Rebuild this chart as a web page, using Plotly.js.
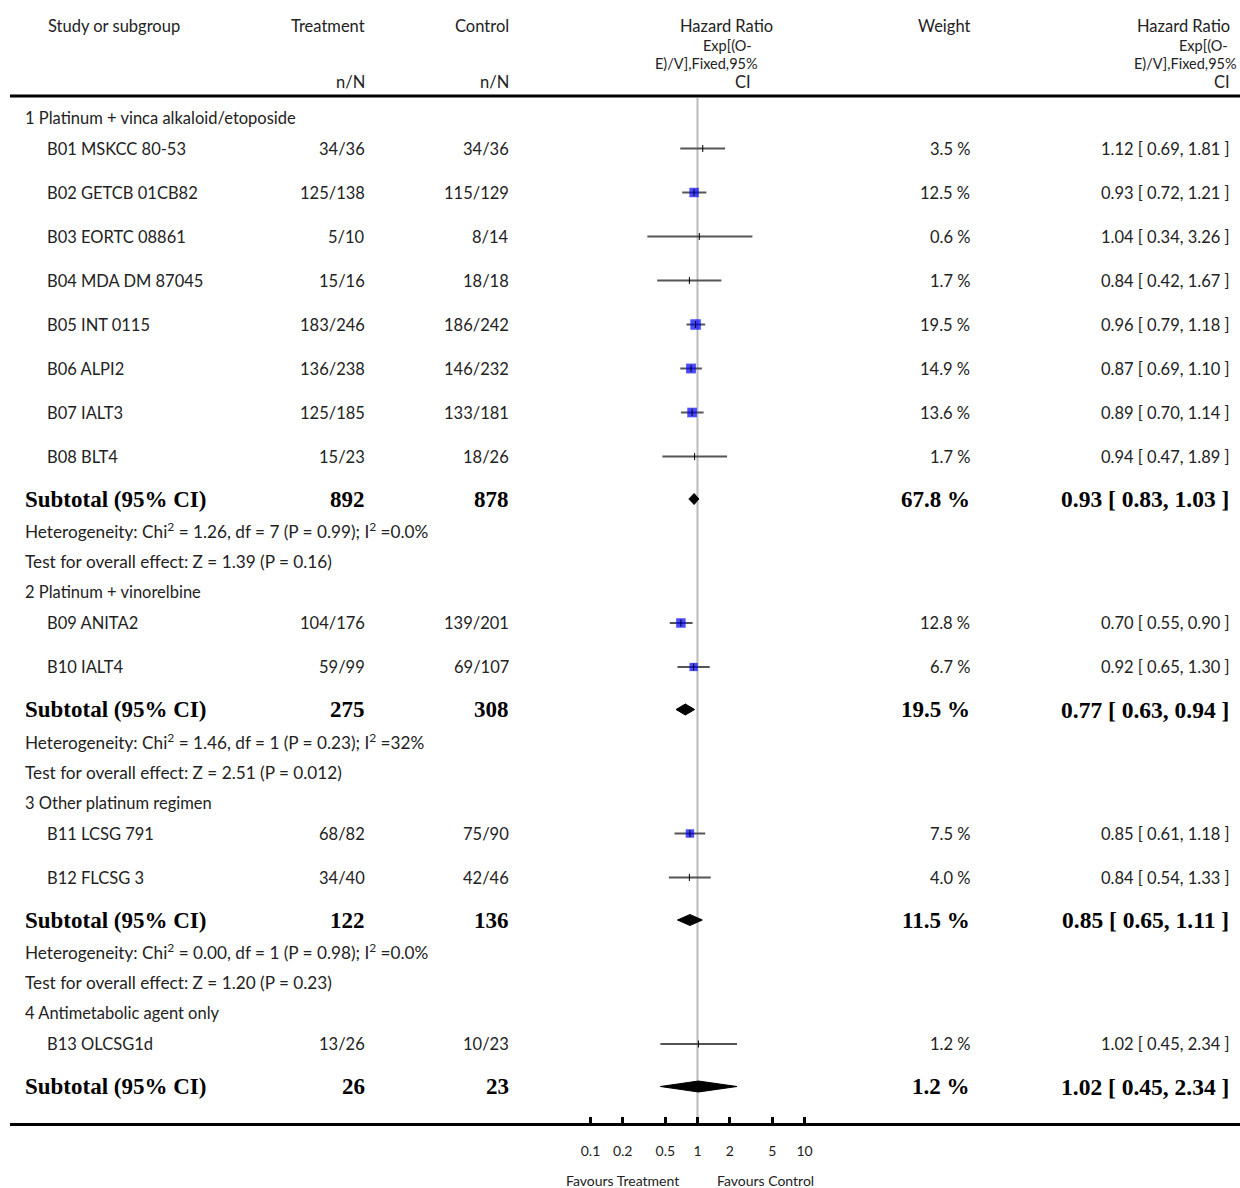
<!DOCTYPE html>
<html>
<head>
<meta charset="utf-8">
<script src="https://cdn.plot.ly/plotly-3.0.1.min.js"></script>
<style>html,body{margin:0;padding:0;background:#fff;}#chart{width:1240px;height:1188px;}</style>
</head>
<body>
<div id="chart"></div>
<script>
// ---------------- data ----------------
const groupNames = ['1 Platinum + vinca alkaloid/etoposide', '2 Platinum + vinorelbine', '3 Other platinum regimen', '4 Antimetabolic agent only'];
const studies = ['B01 MSKCC 80-53', 'B02 GETCB 01CB82', 'B03 EORTC 08861', 'B04 MDA DM 87045', 'B05 INT 0115', 'B06 ALPI2', 'B07 IALT3', 'B08 BLT4', 'B09 ANITA2', 'B10 IALT4', 'B11 LCSG 791', 'B12 FLCSG 3', 'B13 OLCSG1d'];
const studyGroup = [0, 0, 0, 0, 0, 0, 0, 0, 1, 1, 2, 2, 3];
const treatN = ['34/36', '125/138', '5/10', '15/16', '183/246', '136/238', '125/185', '15/23', '104/176', '59/99', '68/82', '34/40', '13/26'];
const controlN = ['34/36', '115/129', '8/14', '18/18', '186/242', '146/232', '133/181', '18/26', '139/201', '69/107', '75/90', '42/46', '10/23'];
const weights = [3.5, 12.5, 0.6, 1.7, 19.5, 14.9, 13.6, 1.7, 12.8, 6.7, 7.5, 4.0, 1.2];
const hr = [1.12, 0.93, 1.04, 0.84, 0.96, 0.87, 0.89, 0.94, 0.70, 0.92, 0.85, 0.84, 1.02];
const hrLo = [0.69, 0.72, 0.34, 0.42, 0.79, 0.69, 0.70, 0.47, 0.55, 0.65, 0.61, 0.54, 0.45];
const hrHi = [1.81, 1.21, 3.26, 1.67, 1.18, 1.10, 1.14, 1.89, 0.90, 1.30, 1.18, 1.33, 2.34];

const subTreat = [892, 275, 122, 26];
const subControl = [878, 308, 136, 23];
const subWeight = [67.8, 19.5, 11.5, 1.2];
const subHr = [0.93, 0.77, 0.85, 1.02];
const subLo = [0.83, 0.63, 0.65, 0.45];
const subHi = [1.03, 0.94, 1.11, 2.34];
const heterogeneity = [
  'Heterogeneity: Chi<sup>2</sup> = 1.26, df = 7 (P = 0.99); I<sup>2</sup> =0.0%',
  'Heterogeneity: Chi<sup>2</sup> = 1.46, df = 1 (P = 0.23); I<sup>2</sup> =32%',
  'Heterogeneity: Chi<sup>2</sup> = 0.00, df = 1 (P = 0.98); I<sup>2</sup> =0.0%',
  null
];
const overallTest = [
  'Test for overall effect: Z = 1.39 (P = 0.16)',
  'Test for overall effect: Z = 2.51 (P = 0.012)',
  'Test for overall effect: Z = 1.20 (P = 0.23)',
  null
];
const tickVals = [0.1, 0.2, 0.5, 1, 2, 5, 10];
const tickText = ['0.1', '0.2', '0.5', '1', '2', '5', '10'];

// ---------------- layout helpers ----------------
const W = 1240, H = 1188, AXIS_Y = 1123, HEADER_LINE = 96;
const px = v => v / W;       // paper x from pixel
const py = v => 1 - v / H;   // paper y from pixel
const SANS = 'Lato, "Open Sans", sans-serif';
const SERIF = '"Liberation Serif", "Times New Roman", serif';
const TXT = '#222';

// compute row positions (pixel rows)
const GAP = {hdrStudy: 31, studyStudy: 44, studySub: 42.5, subHet: 31.5, hetTest: 31, testHdr: 30.5};
let y = 117.5;
const groupY = [], studyY = [], subY = [], hetY = [], testY = [];
for (let g = 0; g < groupNames.length; g++) {
  groupY[g] = y;
  let first = true;
  studies.forEach((s, i) => {
    if (studyGroup[i] !== g) return;
    y += first ? GAP.hdrStudy : GAP.studyStudy;
    first = false;
    studyY[i] = y;
  });
  y += GAP.studySub; subY[g] = y;
  if (heterogeneity[g]) { y += GAP.subHet; hetY[g] = y; }
  if (overallTest[g]) { y += GAP.hetTest; testY[g] = y; }
  y += GAP.testHdr;
}

const ann = [];
function txt(x, yy, text, anchor, font) {
  const dx = anchor === 'left' ? -2 : (anchor === 'right' ? 2 : 0);
  ann.push({xref: 'paper', yref: 'y', x: px(x + dx), y: yy, text: text, showarrow: false,
            xanchor: anchor, yanchor: 'middle', font: font, align: anchor});
}
const fReg = {family: SANS, size: 16.5, color: TXT};
const fStat = {family: SANS, size: 17.2, color: TXT};
const fHead = {family: SANS, size: 16.5, color: TXT};
const fHeadSmall = {family: SANS, size: 14.5, color: TXT};
const fBold = {family: SERIF, size: 23, color: '#000', weight: 'bold'};
const fBoldCI = {family: SERIF, size: 23.5, color: '#000', weight: 'bold'};

// headers
txt(48, 26, 'Study or subgroup', 'left', fHead);
txt(365, 26, 'Treatment', 'right', fHead);
txt(509, 26, 'Control', 'right', fHead);
txt(365, 82, 'n/N', 'right', fHead);
txt(509, 82, 'n/N', 'right', fHead);
txt(773, 26, 'Hazard Ratio', 'right', fHead);
txt(752, 45, 'Exp[(O-', 'right', fHeadSmall);
txt(758, 63, 'E)/V],Fixed,95%', 'right', fHeadSmall);
txt(751, 82, 'CI', 'right', fHead);
txt(970, 26, 'Weight', 'right', fHead);
txt(1230, 26, 'Hazard Ratio', 'right', fHead);
txt(1228, 45, 'Exp[(O-', 'right', fHeadSmall);
txt(1237, 63, 'E)/V],Fixed,95%', 'right', fHeadSmall);
txt(1230, 82, 'CI', 'right', fHead);

const fmtCI = (h, l, u) => h.toFixed(2) + ' [ ' + l.toFixed(2) + ', ' + u.toFixed(2) + ' ]';

groupNames.forEach((gname, g) => {
  txt(25, groupY[g], gname, 'left', fReg);
  txt(25, subY[g], 'Subtotal (95% CI)', 'left', fBold);
  txt(365, subY[g], String(subTreat[g]), 'right', fBold);
  txt(509, subY[g], String(subControl[g]), 'right', fBold);
  txt(970, subY[g], subWeight[g].toFixed(1) + ' %', 'right', fBold);
  txt(1229, subY[g], fmtCI(subHr[g], subLo[g], subHi[g]), 'right', fBoldCI);
  if (heterogeneity[g]) txt(25, hetY[g], heterogeneity[g], 'left', fStat);
  if (overallTest[g]) txt(25, testY[g], overallTest[g], 'left', fStat);
});
studies.forEach((s, i) => {
  txt(47, studyY[i], s, 'left', fReg);
  txt(365, studyY[i], treatN[i], 'right', fReg);
  txt(509, studyY[i], controlN[i], 'right', fReg);
  txt(970, studyY[i], weights[i].toFixed(1) + ' %', 'right', fReg);
  txt(1230, studyY[i], fmtCI(hr[i], hrLo[i], hrHi[i]), 'right', fReg);
});

// bottom labels
const fFav = {family: SANS, size: 14, color: TXT};
ann.push({xref: 'paper', yref: 'paper', x: px(622), y: py(1180), text: 'Favours Treatment',
          showarrow: false, xanchor: 'center', yanchor: 'middle', font: fFav});
ann.push({xref: 'paper', yref: 'paper', x: px(765), y: py(1180), text: 'Favours Control',
          showarrow: false, xanchor: 'center', yanchor: 'middle', font: fFav});

// ---------------- traces ----------------
const traces = [];
// CI lines
const ciX = [], ciY = [];
studies.forEach((s, i) => { ciX.push(hrLo[i], hrHi[i], null); ciY.push(studyY[i], studyY[i], null); });
traces.push({x: ciX, y: ciY, mode: 'lines', line: {color: '#555', width: 2}, hoverinfo: 'skip', showlegend: false});
// squares (weight-scaled; very small weights show only the tick)
traces.push({x: hr, y: studyY, mode: 'markers', hoverinfo: 'skip', showlegend: false,
  marker: {symbol: 'square', color: '#0000ff', size: weights.map(w => w >= 5 ? 5 + 1.25 * Math.sqrt(w) : 0), line: {width: 0}}});
// point estimate ticks
traces.push({x: hr, y: studyY, mode: 'markers', hoverinfo: 'skip', showlegend: false,
  marker: {symbol: 'line-ns', size: 5, line: {color: '#000', width: 1}}});
// diamonds
groupNames.forEach((gname, g) => {
  const h = 5.5;
  traces.push({x: [subLo[g], subHr[g], subHi[g], subHr[g], subLo[g]],
               y: [subY[g], subY[g] - h, subY[g], subY[g] + h, subY[g]],
               mode: 'lines', fill: 'toself', fillcolor: '#000', line: {color: '#000', width: 1},
               hoverinfo: 'skip', showlegend: false});
});

const layout = {
  width: W, height: H,
  margin: {l: 0, r: 0, t: 0, b: 0},
  paper_bgcolor: '#fff', plot_bgcolor: '#fff',
  showlegend: false,
  xaxis: {
    type: 'log', domain: [10 / W, 1], range: [-6.425, 5.070],
    showgrid: false, zeroline: false, showline: true, linecolor: '#000', linewidth: 3,
    ticks: 'inside', ticklen: 6, tickwidth: 2.5, tickcolor: '#000',
    tickvals: tickVals, ticktext: tickText, ticklabelstandoff: 13,
    tickfont: {family: SANS, size: 14, color: TXT}, fixedrange: true
  },
  yaxis: {
    domain: [(H - AXIS_Y) / H, 1], range: [AXIS_Y, 0], visible: false, fixedrange: true
  },
  shapes: [
    {type: 'line', xref: 'paper', yref: 'y', x0: px(10), x1: 1, y0: HEADER_LINE, y1: HEADER_LINE, line: {color: '#000', width: 3}},
    {type: 'line', xref: 'x', yref: 'y', x0: 1, x1: 1, y0: HEADER_LINE + 2, y1: AXIS_Y, line: {color: '#bbb', width: 2}, layer: 'below'}
  ],
  annotations: ann
};

Plotly.newPlot('chart', traces, layout, {staticPlot: true, displayModeBar: false});
</script>
</body>
</html>
